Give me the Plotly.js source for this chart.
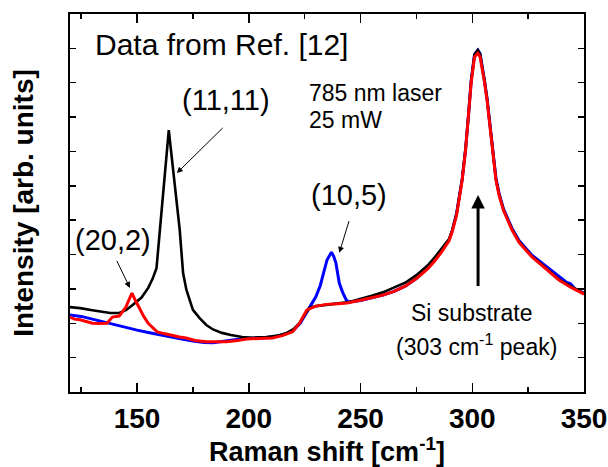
<!DOCTYPE html>
<html>
<head>
<meta charset="utf-8">
<script src="https://cdn.plot.ly/plotly-3.0.1.min.js"></script>
<style>html,body{margin:0;padding:0;background:#fff;}#chart{width:608px;height:467px;}</style>
</head>
<body>
<div id="chart"></div>
<script>
// Raman shift (cm^-1) and intensity (arb. units)
const blackX = [120,124.5,130,134,138,142,145,148,152,155,157,158.7,160.2,164.2,169.1,170.6,172.1,175,178,181,184,188,192,197,202,208,213,217,220,222.7,225,227,230,235,240,245,250,255,260,265,270,275,280,283,286,289.6,291,293,295.5,297,298.3,299.5,301,302.5,303.5,304.4,305.5,306.6,307.7,308.8,310.6,312,314,317.8,321,326.7,331,338.8,344,348.6,350];
const blackY = [2.47,2.44,2.38,2.33,2.3,2.3,2.38,2.53,2.75,3.03,3.3,3.6,4.71,7.62,4.71,3.46,2.97,2.39,2.15,1.95,1.82,1.72,1.66,1.6,1.58,1.6,1.64,1.72,1.83,2.0,2.25,2.44,2.5,2.55,2.58,2.62,2.7,2.8,2.9,3.03,3.18,3.4,3.68,3.9,4.15,4.45,4.7,5.2,6.2,7.08,8.05,9.05,9.82,9.95,9.84,9.52,9.05,8.55,7.95,7.28,6.2,5.75,5.3,4.73,4.37,3.95,3.72,3.28,3.08,2.9,2.87];
const blueX = [120,125,130,135,140,145,150,155,160,165,170,175,180,184,190,197,205,211,216,220,223,226,228,230,232,233.8,235,237,238,239,240.5,242,243.6,245,250,255,260,265,270,275,280,283,286,289.6,291,293,295.5,297,298.3,299.5,301,302.5,303.5,304.4,305.5,306.6,307.7,308.8,310.6,312,314,317.8,321,326.7,331,335,338.8,342,344,346,348.6,350];
const blueY = [2.24,2.2,2.12,2.04,1.96,1.86,1.8,1.73,1.66,1.6,1.54,1.48,1.44,1.43,1.48,1.55,1.58,1.6,1.68,1.8,2.0,2.35,2.55,2.77,3.1,3.55,3.84,4.07,3.95,3.75,3.17,2.9,2.68,2.62,2.66,2.74,2.82,2.93,3.08,3.3,3.6,3.82,4.1,4.42,4.68,5.2,6.2,7.06,8.05,9.05,9.82,9.95,9.84,9.52,9.05,8.55,7.95,7.28,6.22,5.78,5.32,4.76,4.4,3.98,3.76,3.55,3.34,3.2,3.15,3.0,2.92,2.88];
const redX = [120,122,124.5,127,130,133,136.5,139,142,145,147.7,149,151,153,155,157,159,162,166,169,172,176,181,186,190,195,199,205,210.6,215,219.6,222.7,226,230,235,240,244,250,255,260,265,270,275,280,283,286,289.6,291,293,295.5,297,298.3,299.5,301,302.5,303.5,304.4,305.5,306.6,307.7,308.8,310.6,312,314,317.8,321,326.7,331,338.8,344,348.6,350];
const redY = [2.18,2.12,2.1,2.05,2.0,1.99,2.0,2.18,2.21,2.47,2.88,2.7,2.44,2.2,2.0,1.86,1.75,1.7,1.63,1.6,1.57,1.5,1.46,1.45,1.46,1.5,1.54,1.56,1.57,1.64,1.75,2.0,2.39,2.5,2.55,2.57,2.59,2.67,2.74,2.82,2.93,3.08,3.3,3.58,3.8,4.05,4.4,4.66,5.15,6.17,7.04,8.0,8.99,9.75,9.86,9.75,9.46,9.0,8.5,7.9,7.24,6.17,5.72,5.28,4.71,4.35,3.93,3.7,3.26,3.05,2.88,2.85];
const xTicks = [150,200,250,300,350];

const FONT = 'Liberation Sans, Arial, sans-serif';

const traces = [
  {x: blueX, y: blueY, mode: 'lines', line: {color: '#0000ff', width: 3}, hoverinfo: 'skip'},
  {x: blackX, y: blackY, mode: 'lines', line: {color: '#000000', width: 2.6}, hoverinfo: 'skip'},
  {x: redX, y: redY, mode: 'lines', line: {color: '#ff0000', width: 3}, hoverinfo: 'skip'}
];

function label(text, x, y, size, xanchor) {
  return {text: text, x: x, y: y, xref: 'x', yref: 'y', showarrow: false,
          xanchor: xanchor || 'center', yanchor: 'middle',
          font: {family: FONT, size: size, color: '#000'}};
}
function arrow(x, y, ax, ay, w, size) {
  return {text: ' ', x: x, y: y, ax: ax, ay: ay, xref: 'x', yref: 'y', axref: 'x', ayref: 'y',
          showarrow: true, arrowhead: 2, arrowsize: size, arrowwidth: w, arrowcolor: '#000',
          font: {family: FONT, size: 4, color: '#000'}};
}

const layout = {
  width: 608, height: 467,
  margin: {l: 70, r: 24, t: 14, b: 75},
  showlegend: false,
  paper_bgcolor: '#fff', plot_bgcolor: '#fff',
  font: {family: FONT, color: '#000'},
  xaxis: {
    range: [120, 350], tickvals: xTicks, ticktext: xTicks.map(String),
    ticks: 'inside', ticklen: 9, tickwidth: 1.5, tickcolor: '#000',
    minor: {tickvals: [125,175,225,275,325], ticks: 'inside', ticklen: 5, tickwidth: 1.5, tickcolor: '#000'},
    showline: true, linewidth: 2, linecolor: '#000', mirror: 'allticks',
    showgrid: false, zeroline: false,
    tickfont: {family: FONT, size: 28, weight: 'bold', color: '#000'},
    title: {text: 'Raman shift [cm<sup>-1</sup>]', font: {family: FONT, size: 27, weight: 'bold', color: '#000'}, standoff: 14}
  },
  yaxis: {
    range: [0, 11], dtick: 1, tick0: 0, showticklabels: false,
    ticks: 'inside', ticklen: 6, tickwidth: 1.5, tickcolor: '#000',
    showline: true, linewidth: 2, linecolor: '#000', mirror: 'allticks',
    showgrid: false, zeroline: false,
    title: {text: 'Intensity [arb. units]', font: {family: FONT, size: 28, weight: 'bold', color: '#000'}, standoff: 26}
  },
  annotations: [
    label('Data from Ref. [12]', 130.3, 10.1, 30, 'left'),
    label('(11,11)', 189.6, 8.5, 29),
    label('(20,2)', 139.2, 4.42, 29),
    label('(10,5)', 245, 5.73, 29),
    label('785 nm laser', 226.2, 8.7, 23, 'left'),
    label('25 mW', 226.2, 7.92, 23, 'left'),
    label('Si substrate', 299.5, 2.3, 23),
    label('(303 cm<sup>-1</sup> peak)', 302.1, 1.37, 23),
    arrow(167.8, 6.37, 189.2, 7.74, 1, 1.2),
    arrow(146.8, 3.03, 140.1, 3.93, 1, 1.2),
    arrow(240.5, 4.05, 245.4, 5.09, 1, 1.2),
    arrow(302.6, 5.73, 302.6, 2.97, 3, 0.9)
  ]
};

Plotly.newPlot('chart', traces, layout, {staticPlot: true, displayModeBar: false});
</script>
</body>
</html>
